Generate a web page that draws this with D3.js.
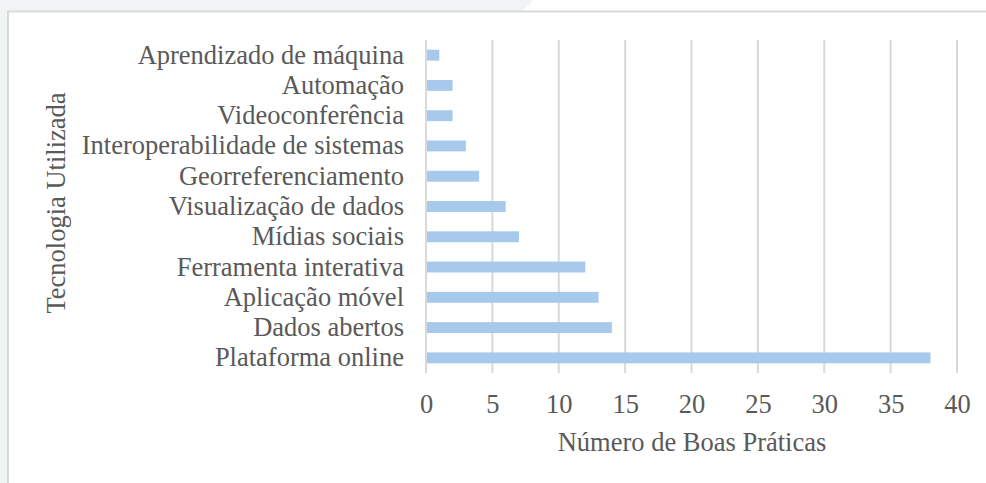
<!DOCTYPE html>
<html>
<head>
<meta charset="utf-8">
<script src="https://cdn.jsdelivr.net/npm/d3@7"></script>
<style>
  body { margin: 0; background: #ffffff; }
  svg { display: block; font-family: "Liberation Serif", "Times New Roman", serif; }
</style>
</head>
<body>
<div id="chart"></div>
<script>

var categories = [
  "Aprendizado de máquina",
  "Automação",
  "Videoconferência",
  "Interoperabilidade de sistemas",
  "Georreferenciamento",
  "Visualização de dados",
  "Mídias sociais",
  "Ferramenta interativa",
  "Aplicação móvel",
  "Dados abertos",
  "Plataforma online"
];
var counts = [1, 2, 2, 3, 4, 6, 7, 12, 13, 14, 38];
var xTicks = [0, 5, 10, 15, 20, 25, 30, 35, 40];

var W = 986, H = 483;
var plot = { left: 426, right: 957, top: 40, bottom: 373 };
var textColor = "#595959";
var fontSize = "26.5px";

var svg = d3.select("#chart").append("svg")
    .attr("width", W)
    .attr("height", H);

// page background with the panel
svg.append("rect").attr("width", W).attr("height", H).attr("fill", "#ffffff");
svg.append("path")
    .attr("d", "M0,0 L533,0 L523,11 L8,11 L8," + H + " L0," + H + " Z")
    .attr("fill", "#f1f4f5");
svg.append("path")
    .attr("d", "M8," + H + " L8,11.5 L986,11.5")
    .attr("fill", "none")
    .attr("stroke", "#d9d9d9")
    .attr("stroke-width", 2);

var data = categories.map(function(c, i){ return { cat: c, val: counts[i] } });

var x = d3.scaleLinear()
    .domain([0, 40])
    .range([plot.left, plot.right]);

var y = d3.scaleBand()
    .domain(categories)
    .range([plot.top, plot.bottom])
    .paddingInner(0.64)
    .paddingOuter(0.32);

// gridlines
svg.selectAll(".grid")
    .data(xTicks).enter()
    .append("line")
    .attr("class", "grid")
    .attr("x1", function(d){ return x(d) })
    .attr("x2", function(d){ return x(d) })
    .attr("y1", plot.top)
    .attr("y2", plot.bottom)
    .attr("stroke", "#d9d9d9")
    .attr("stroke-width", 2);

// bars
svg.selectAll(".bar")
    .data(data).enter()
    .append("rect")
    .attr("class", "bar")
    .attr("x", x(0) + 1)
    .attr("y", function(d){ return y(d.cat) })
    .attr("width", function(d){ return x(d.val) - x(0) - 1 })
    .attr("height", y.bandwidth())
    .attr("fill", "#a6c9ec");

// x axis
var xAxis = d3.axisBottom(x).tickValues(xTicks).tickSize(0).tickPadding(21);
var gx = svg.append("g")
    .attr("transform", "translate(0," + plot.bottom + ")")
    .call(xAxis);
gx.select(".domain").remove();
gx.selectAll("text")
    .attr("fill", textColor)
    .style("font-size", fontSize)
    .style("font-family", "Liberation Serif, serif");

// y axis
var yAxis = d3.axisLeft(y).tickSize(0).tickPadding(22);
var gy = svg.append("g")
    .attr("transform", "translate(" + plot.left + ",0)")
    .call(yAxis);
gy.select(".domain").remove();
gy.selectAll("text")
    .attr("fill", textColor)
    .style("font-size", fontSize)
    .style("font-family", "Liberation Serif, serif");

// axis titles
svg.append("text")
    .attr("x", 692)
    .attr("y", 451)
    .attr("text-anchor", "middle")
    .attr("fill", textColor)
    .style("font-size", fontSize)
    .text("Número de Boas Práticas");

svg.append("text")
    .attr("transform", "translate(65,203) rotate(-90)")
    .attr("text-anchor", "middle")
    .attr("fill", textColor)
    .style("font-size", fontSize)
    .text("Tecnologia Utilizada");

</script>
</body>
</html>
